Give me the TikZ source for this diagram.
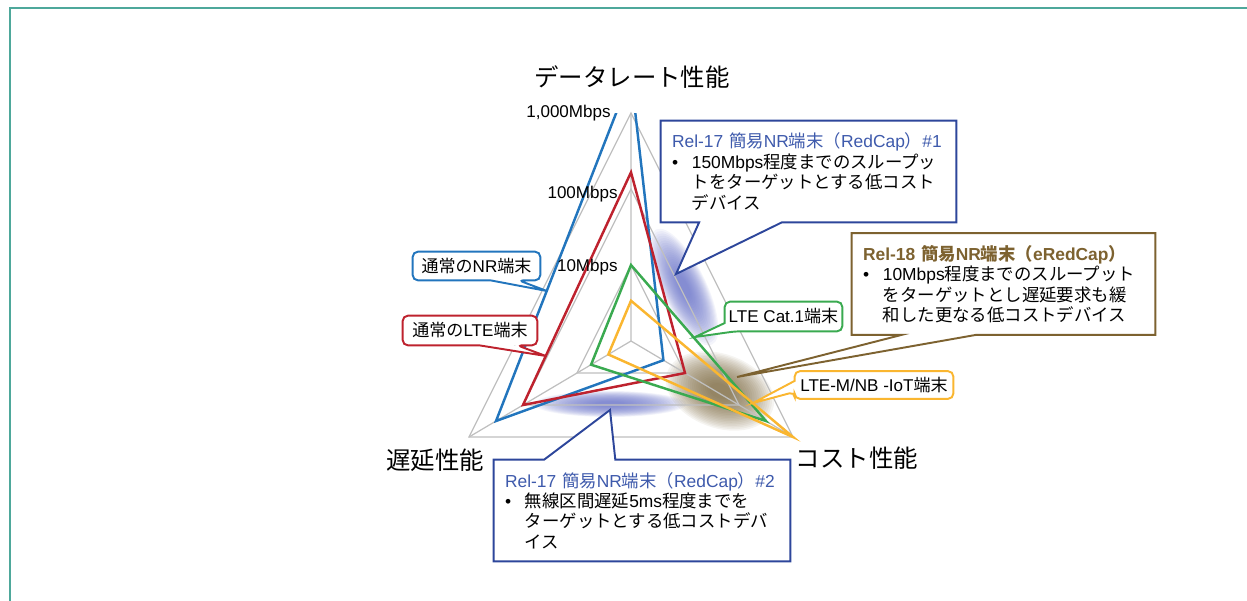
\documentclass[tikz,border=0pt]{standalone}
\usepackage{fontspec}
\setmainfont{Liberation Sans}
\newfontfamily\jp{Noto Sans CJK JP}
\usetikzlibrary{calc}

\definecolor{gridgray}{RGB}{191,191,191}
\definecolor{nrblue}{RGB}{34,117,189}
\definecolor{ltered}{RGB}{190,34,46}
\definecolor{catgreen}{RGB}{58,170,80}
\definecolor{iotorange}{RGB}{250,182,48}
\definecolor{rcblue}{RGB}{45,70,155}
\definecolor{rctext}{RGB}{62,90,172}
\definecolor{erbrown}{RGB}{125,98,48}
\definecolor{glowblue}{RGB}{100,110,198}
\definecolor{glowbrown}{RGB}{120,100,58}
\definecolor{frameteal}{RGB}{78,168,155}

\newcommand{\ja}[1]{{\jp #1}}
\newcommand{\bul}{\makebox[11.3pt][l]{•}}
\newcommand{\ind}{\hspace*{11.3pt}}

\tikzset{
  grid line/.style={gridgray, line width=0.7pt},
  series/.style={line width=1.4pt, line join=miter},
  axis title/.style={font=\fontsize{13.9}{16}\selectfont\jp, inner sep=0pt},
  scale label/.style={font=\fontsize{9.7}{11}\selectfont, inner sep=0pt, anchor=east},
  tag/.style={fill=white, rounded corners=3pt, inner sep=0pt, font=\fontsize{9.7}{11}\selectfont},
  relbox/.style={fill=white, inner xsep=2.2mm, inner ysep=0pt, align=left,
    minimum height=20.2mm, font=\fontsize{9.9}{11.6}\selectfont},
  edge line/.style={line width=1.1pt, line join=miter},
}

\begin{document}
\begin{tikzpicture}[x=0.02cm,y=-0.02cm]
\useasboundingbox (0,0) rectangle (1247,600);
\draw[frameteal, line width=1pt] (10,610) -- (10,8) -- (1257,8);

% glows
\foreach \s in {1.00,0.96,...,0.2}
  \fill[glowblue, opacity=0.07, rotate around={-64:(684,287)}] (684,287) ellipse ({64*\s} and {22*\s});
\foreach \s in {1.00,0.96,...,0.2}
  \fill[glowblue, opacity=0.07] (610,404) ellipse ({76*\s} and {13*\s});
\foreach \s in {1.00,0.96,...,0.2}
  \fill[glowbrown, opacity=0.07, rotate around={-20:(720,391)}] (720,391) ellipse ({56*\s} and {37*\s});

% grid
\foreach \r in {1,2,3}
  \draw[grid line] (631,{341-76*\r}) -- ({631+54*\r},{341+32*\r}) -- ({631-54*\r},{341+32*\r}) -- cycle;
\draw[grid line] (631,341) -- (631,113) (631,341) -- (793,437) (631,341) -- (469,437);

% series
\begin{scope}
\clip (0,113) rectangle (1247,600);
\draw[series, nrblue] (631,{341-76*3.5}) -- ({631+54*0.6},{341+32*0.6}) -- ({631-54*2.5},{341+32*2.5}) -- cycle;
\end{scope}
\draw[series, ltered] (631,{341-76*2.22}) -- ({631+54*1.0},{341+32*1.0}) -- ({631-54*2.0},{341+32*2.0}) -- cycle;
\draw[series, catgreen] (631,{341-76*1.0}) -- ({631+54*2.5},{341+32*2.5}) -- ({631-54*0.74},{341+32*0.74}) -- cycle;
\draw[series, iotorange] (631,{341-76*0.53}) -- ({631+54*3},{341+32*3}) -- ({631-54*0.42},{341+32*0.42}) -- cycle;

\node[scale label] (g1000) at (611,113) {1,000Mbps};
\node[scale label] (g100) at (618,194) {100Mbps};
\node[scale label] (g10) at (618,267) {10Mbps};

\node[axis title] (rate) at (632,77) {データレート性能};
\node[axis title] (delay) at (435,460) {遅延性能};
\node[axis title] (cost) at (857,458) {コスト性能};

\coordinate (rc1tip) at (676,274);
\coordinate (ertip) at (737,377);
\coordinate (rc2tip) at (610,410);
\coordinate (nrtip) at (547,291);
\coordinate (ltetip) at (546,356);
\coordinate (cattip) at (695,337);
\coordinate (iottip) at (753,403);

% Rel-17 #1
\node[relbox, minimum width=59mm, text width=54.6mm] (rc1) at (808.5,171.5)
  {\textcolor{rctext}{Rel-17 \ja{簡易}NR\ja{端末（}RedCap\ja{）}\#1}\\
   \bul 150Mbps\ja{程度までのスループッ}\\
   \ind\ja{トをターゲットとする低コスト}\\
   \ind\ja{デバイス}};
\fill[white] ($(rc1.south west)!0.13!(rc1.south east)$) -- (rc1tip) -- ($(rc1.south west)!0.41!(rc1.south east)$) -- cycle;
\draw[edge line, rcblue] (rc1.south west) -- (rc1.north west) -- (rc1.north east) -- (rc1.south east)
  -- ($(rc1.south west)!0.41!(rc1.south east)$) -- (rc1tip) -- ($(rc1.south west)!0.13!(rc1.south east)$) -- cycle;

% Rel-18
\node[relbox, minimum width=60.6mm, text width=56.2mm] (er) at (1003.5,284)
  {\textcolor{erbrown}{\bfseries Rel-18 \ja{簡易}NR\ja{端末（}eRedCap\ja{）}}\\
   \bul 10Mbps\ja{程度までのスループット}\\
   \ind\ja{をターゲットとし遅延要求も緩}\\
   \ind\ja{和した更なる低コストデバイス}};
\fill[white] ($(er.south west)!0.165!(er.south east)$) -- (ertip) -- ($(er.south west)!0.41!(er.south east)$) -- cycle;
\draw[edge line, erbrown] (er.south west) -- (er.north west) -- (er.north east) -- (er.south east)
  -- ($(er.south west)!0.41!(er.south east)$) -- (ertip) -- ($(er.south west)!0.165!(er.south east)$) -- cycle;

% Rel-17 #2
\node[relbox, minimum width=59.2mm, text width=54.8mm] (rc2) at (642,510.5)
  {\textcolor{rctext}{Rel-17 \ja{簡易}NR\ja{端末（}RedCap\ja{）}\#2}\\
   \bul\ja{無線区間遅延}5ms\ja{程度までを}\\
   \ind\ja{ターゲットとする低コストデバ}\\
   \ind\ja{イス}};
\fill[white] ($(rc2.north west)!0.17!(rc2.north east)$) -- (rc2tip) -- ($(rc2.north west)!0.41!(rc2.north east)$) -- cycle;
\draw[edge line, rcblue] (rc2.north west) -- ($(rc2.north west)!0.17!(rc2.north east)$) -- (rc2tip)
  -- ($(rc2.north west)!0.41!(rc2.north east)$) -- (rc2.north east) -- (rc2.south east) -- (rc2.south west) -- cycle;

% small tags
\node[tag, minimum width=25.4mm, minimum height=5.6mm] (nr) at (476.5,266) {\ja{通常の}NR\ja{端末}};
\fill[white] ($(nr.south west)!0.61!(nr.south east)$) -- (nrtip) -- ($(nr.south west)!0.83!(nr.south east)$) -- cycle;
\draw[edge line, nrblue, rounded corners=3pt] ($(nr.south west)!0.61!(nr.south east)$) -- (nr.south west) -- (nr.north west)
  -- (nr.north east) -- (nr.south east) -- ($(nr.south west)!0.83!(nr.south east)$) [sharp corners] -- (nrtip) -- cycle;

\node[tag, minimum width=26.8mm, minimum height=5.8mm] (lte) at (470,330.5) {\ja{通常の}LTE\ja{端末}};
\fill[white] ($(lte.south west)!0.57!(lte.south east)$) -- (ltetip) -- ($(lte.south west)!0.85!(lte.south east)$) -- cycle;
\draw[edge line, ltered, rounded corners=3pt] ($(lte.south west)!0.57!(lte.south east)$) -- (lte.south west) -- (lte.north west)
  -- (lte.north east) -- (lte.south east) -- ($(lte.south west)!0.85!(lte.south east)$) [sharp corners] -- (ltetip) -- cycle;

\node[tag, minimum width=23.4mm, minimum height=5.8mm] (cat) at (783.5,316.5) {LTE Cat.1\ja{端末}};
\fill[white] ($(cat.north west)!0.72!(cat.south west)$) -- (cattip) -- ($(cat.south west)!0.09!(cat.south east)$) -- (cat.south west) -- cycle;
\draw[edge line, catgreen, rounded corners=3pt] ($(cat.north west)!0.72!(cat.south west)$) -- (cat.north west) -- (cat.north east)
  -- (cat.south east) -- ($(cat.south west)!0.09!(cat.south east)$) [sharp corners] -- (cattip) -- cycle;

\node[tag, minimum width=31.6mm, minimum height=5.4mm] (iot) at (874,385) {LTE-M/NB -IoT\ja{端末}};
\fill[white] ($(iot.north west)!0.35!(iot.south west)$) -- (iottip) -- ($(iot.north west)!0.75!(iot.south west)$) -- cycle;
\draw[edge line, iotorange, rounded corners=3pt] ($(iot.north west)!0.35!(iot.south west)$) -- (iot.north west) -- (iot.north east)
  -- (iot.south east) -- (iot.south west) -- ($(iot.north west)!0.75!(iot.south west)$) [sharp corners] -- (iottip) -- cycle;
\end{tikzpicture}
\end{document}
